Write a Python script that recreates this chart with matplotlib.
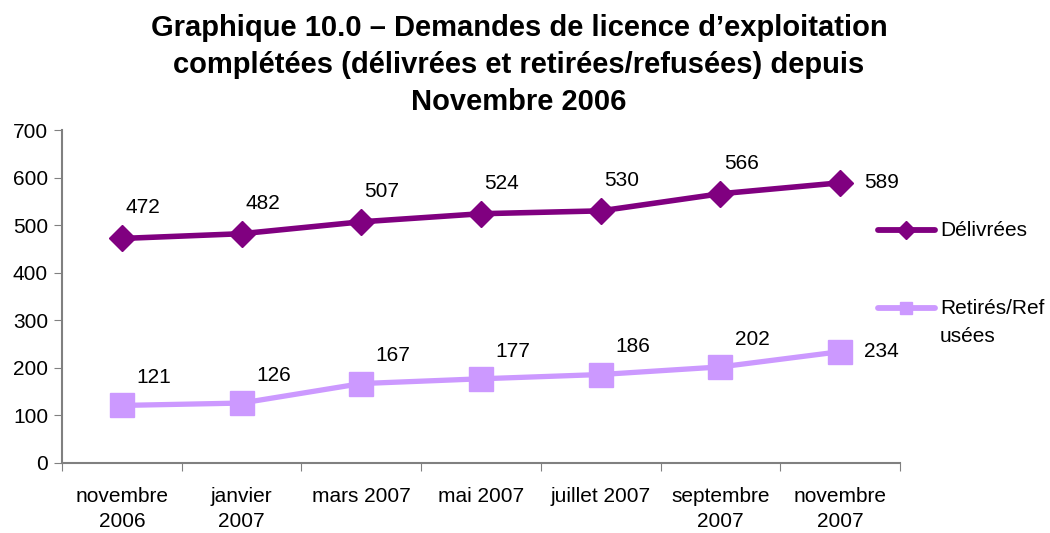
import matplotlib.pyplot as plt
from matplotlib.lines import Line2D

plt.rcParams['font.family'] = ['Liberation Sans', 'DejaVu Sans']

# data
months = ['novembre\n2006', 'janvier\n2007', 'mars 2007', 'mai 2007',
          'juillet 2007', 'septembre\n2007', 'novembre\n2007']
delivrees = [472, 482, 507, 524, 530, 566, 589]
retires = [121, 126, 167, 177, 186, 202, 234]

dark = '#800080'
light = '#CC99FF'
grey = '#808080'

fig = plt.figure(figsize=(10.5, 5.33), dpi=100)
ax = fig.add_axes([62 / 1050, 1 - 463 / 533, 838 / 1050, 333 / 533])

x = list(range(len(months)))
ax.plot(x, delivrees, color=dark, lw=4, marker='D', ms=13.5, zorder=3)
ax.plot(x, retires, color=light, lw=3.8, marker='s', ms=17, zorder=3)

# value labels (offsets in points, last one to the right)
for series, off in ((delivrees, (15, 22)), (retires, (23, 20))):
    for i, v in enumerate(series):
        o = (30, 0) if i == len(series) - 1 else off
        ax.annotate(str(v), (i, v), xytext=o, textcoords='offset points',
                    ha='center', va='center', fontsize=15)

ax.set_xlim(-0.5, len(months) - 0.5)
ax.set_ylim(0, 700)
ax.set_yticks(range(0, 701, 100))
ax.set_xticks([i - 0.5 for i in range(len(months) + 1)])
ax.set_xticklabels([])
ax.set_xticks(x, minor=True)
ax.set_xticklabels(months, minor=True, fontsize=15, linespacing=1.45)
ax.tick_params(axis='x', which='minor', length=0, pad=17)
ax.tick_params(axis='x', which='major', length=6, color=grey, direction='out')
ax.tick_params(axis='y', length=6, color=grey, labelsize=15, pad=4)
for s in ('top', 'right'):
    ax.spines[s].set_visible(False)
for s in ('left', 'bottom'):
    ax.spines[s].set_color(grey)
    ax.spines[s].set_linewidth(1.5)

# legend drawn by hand so the handle sits on the first text line
leg = [('Délivrées', dark, 'D', 9, 230),
       ('Retirés/Ref\nusées', light, 's', 8, 308)]
for label, c, m, ms, ypx in leg:
    y = 1 - ypx / 533
    fig.add_artist(Line2D([878 / 1050, 906 / 1050, 935 / 1050], [y, y, y],
                          transform=fig.transFigure, color=c, lw=4.2,
                          marker=m, ms=ms, markevery=[1], solid_capstyle='round'))
    fig.text(940 / 1050, 1 - (ypx - 9) / 533, label, ha='left', va='top',
             fontsize=15, linespacing=1.6)

fig.text(519 / 1050, 1 - 14 / 533,
         'Graphique 10.0 – Demandes de licence d’exploitation\n'
         'complétées (délivrées et retirées/refusées) depuis\n'
         'Novembre 2006',
         ha='center', va='top', fontsize=21, fontweight='bold', linespacing=1.42)

fig.savefig('out.png', dpi=100)
